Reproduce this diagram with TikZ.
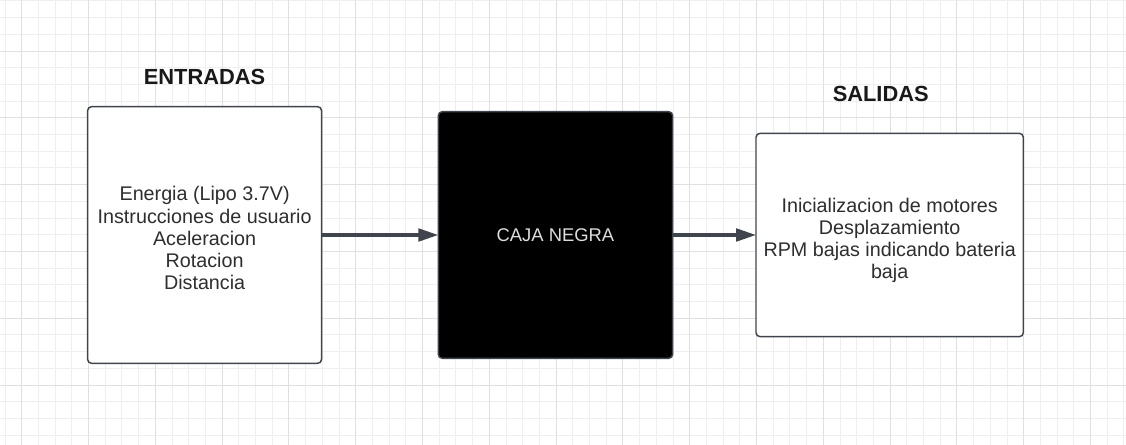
\documentclass[tikz,border=0pt]{standalone}
\usepackage{fontspec}
\setmainfont{Liberation Sans}
\usepackage{xcolor}
\usetikzlibrary{arrows.meta,positioning}
\definecolor{gridminor}{HTML}{EFEFEF}
\definecolor{gridmajor}{HTML}{E0E0E0}
\definecolor{edgegray}{HTML}{40444C}
\definecolor{textgray}{HTML}{2E2E2E}
\definecolor{cajatext}{HTML}{DDDDDD}

\begin{document}
\begin{tikzpicture}[x=0.75pt, y=-0.75pt,
                    block/.style={rectangle, draw=edgegray, line width=1.1pt, rounded corners=3pt, fill=white, align=center, text=textgray, font=\fontsize{14.8}{16.7}\selectfont, inner sep=0pt, outer sep=0pt},
                    inbox/.style={block, minimum width=175.5pt, minimum height=192.5pt, execute at begin node={\rule{0pt}{82.6pt}}},
                    blackbox/.style={block, fill=black, text=cajatext, minimum width=175.8pt, minimum height=185pt, font=\fontsize{13.8}{16}\selectfont},
                    outbox/.style={block, minimum width=200.5pt, minimum height=152.5pt, execute at begin node={\rule{0pt}{69pt}}},
                    heading/.style={font=\fontsize{16.4}{18}\selectfont\bfseries, text=black!90, inner sep=0pt, outer sep=0pt},
                    link/.style={-{Triangle[length=15pt, width=9.5pt]}, line width=2.4pt, draw=edgegray},
                    minorline/.style={draw=gridminor, line width=0.7pt},
                    majorline/.style={draw=gridmajor, line width=0.7pt}]

\useasboundingbox (0,0) rectangle (1126,445);

% Background grid
\foreach \i in {0,...,67} \draw[minorline] ({5+16.7*\i},0) -- ({5+16.7*\i},445);
\foreach \i in {0,...,26} \draw[minorline] (0,{0.9+16.7*\i}) -- (1126,{0.9+16.7*\i});
\foreach \i in {0,...,16} \draw[majorline] ({21.7+66.8*\i},0) -- ({21.7+66.8*\i},445);
\foreach \i in {0,...,5} \draw[majorline] (0,{51+66.8*\i}) -- (1126,{51+66.8*\i});

% Place the three blocks
\node[inbox] at (204.6,235) (entradas) {Energia (Lipo 3.7V)\\ Instrucciones de usuario\\ Aceleracion\\ Rotacion\\ Distancia};
\node[blackbox, right=87.5pt of entradas] (caja) {CAJA NEGRA};
\node[outbox, right=62.5pt of caja] (salidas) {Inicializacion de motores\\ Desplazamiento\\ RPM bajas indicando bateria\\ baja};

% Headings above the side blocks
\node[heading, above=16.5pt of entradas] (tentradas) {ENTRADAS};
\node[heading, above=23.7pt of salidas, xshift=-6.7pt] (tsalidas) {SALIDAS};

% Connectors
\draw[link] (entradas) -- (caja);
\draw[link] (caja) -- (salidas);

\end{tikzpicture}
\end{document}
